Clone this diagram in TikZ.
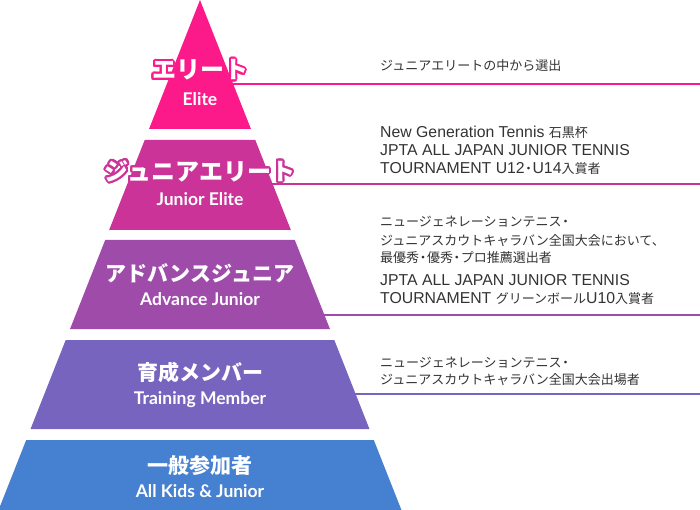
\documentclass[tikz,border=0pt]{standalone}
\usepackage{fontspec}
\usepackage{contour}
\contourlength{2pt}
\contournumber{24}
\setmainfont{Liberation Sans}
\newfontfamily\jp{Noto Sans CJK JP}
\newfontfamily\lato{Lato}
\definecolor{celite}{RGB}{252,26,138}
\definecolor{cjun}{RGB}{204,51,153}
\definecolor{cadv}{RGB}{158,75,170}
\definecolor{ctrn}{RGB}{118,100,190}
\definecolor{ckid}{RGB}{70,128,208}
\definecolor{ctxt}{RGB}{51,51,51}
\newcommand\J[1]{{\jp\fontsize{13}{13}\selectfont #1}}
\newcommand\dt{\kern-2.6pt・\kern-2.6pt}
\tikzset{
  jbig/.style={font=\jp\bfseries\fontsize{24}{24}\selectfont, text=white, inner sep=0pt, anchor=center},
  jmid/.style={font=\jp\bfseries\fontsize{21}{21}\selectfont, text=white, inner sep=0pt, anchor=center},
  elab/.style={font=\lato\bfseries\fontsize{17.5}{17.5}\selectfont, text=white, inner sep=0pt, anchor=base},
  rt/.style={text=ctxt, inner sep=0pt, anchor=base west, font=\fontsize{15.8}{18}\selectfont},
  lead/.style={line width=2pt}
}
\begin{document}
\begin{tikzpicture}[x=1pt,y=-1pt]
\useasboundingbox (0,0) rectangle (700,510);
\def\s{0.395}
% leader lines
\coordinate (l1a) at (200,84);  \coordinate (l1b) at (700,84);
\coordinate (l2a) at (200,184); \coordinate (l2b) at (700,184);
\coordinate (l3a) at (200,315); \coordinate (l3b) at (700,315);
\coordinate (l4a) at (200,394); \coordinate (l4b) at (700,394);
\draw[lead,celite] (l1a) -- (l1b);
\draw[lead,cjun] (l2a) -- (l2b);
\draw[lead,cadv] (l3a) -- (l3b);
\draw[lead,ctrn] (l4a) -- (l4b);
% tiers
\fill[celite] (200,0) -- ({200+\s*129},129) -- ({200-\s*129},129) -- cycle;
\fill[cjun] ({200-\s*140},140) -- ({200+\s*140},140) -- ({200+\s*230},230) -- ({200-\s*230},230) -- cycle;
\fill[cadv] ({200-\s*240},240) -- ({200+\s*240},240) -- ({200+\s*329},329) -- ({200-\s*329},329) -- cycle;
\fill[ctrn] ({200-\s*340},340) -- ({200+\s*340},340) -- ({200+\s*429},429) -- ({200-\s*429},429) -- cycle;
\fill[ckid] ({200-\s*440},440) -- ({200+\s*440},440) -- ({200+\s*520},520) -- ({200-\s*520},520) -- cycle;
% labels
\node[jbig] (j1) at (200,71) {\contour{celite}{エリート}};
\node[elab] (e1) at (200,105.3) {Elite};
\node[jbig] (j2) at (200,172) {\contour{cjun}{ジュニアエリート}};
\node[elab] (e2) at (200,205.3) {Junior Elite};
\node[jmid] (j3) at (200,273) {アドバンスジュニア};
\node[elab] (e3) at (200,305.3) {Advance Junior};
\node[jmid] (j4) at (200,372) {育成メンバー};
\node[elab] (e4) at (200,404.6) {Training Member};
\node[jmid] (j5) at (200,466) {一般参加者};
\node[elab] (e5) at (200,497) {All Kids \& Junior};
% right texts
\node[rt] (t1) at (380,71) {\J{ジュニアエリートの中から選出}};
\node[rt] (t2a) at (380,137.5) {New Generation Tennis \J{石黒杯}};
\node[rt] (t2b) at (380,155.5) {JPTA ALL JAPAN JUNIOR TENNIS};
\node[rt] (t2c) at (380,173.5) {TOURNAMENT U12\J{\dt}U14\J{入賞者}};
\node[rt] (t3a) at (380,227) {\J{ニュージェネレーションテニス\kern-2.6pt・}};
\node[rt] (t3b) at (380,245) {\J{ジュニアスカウトキャラバン全国大会において、}};
\node[rt] (t3c) at (380,262) {\J{最優秀\dt 優秀\dt プロ推薦選出者}};
\node[rt] (t3d) at (380,285.5) {JPTA ALL JAPAN JUNIOR TENNIS};
\node[rt] (t3e) at (380,303.5) {TOURNAMENT \J{グリーンボール}U10\J{入賞者}};
\node[rt] (t4a) at (380,367) {\J{ニュージェネレーションテニス\kern-2.6pt・}};
\node[rt] (t4b) at (380,384) {\J{ジュニアスカウトキャラバン全国大会出場者}};
\end{tikzpicture}
\end{document}
